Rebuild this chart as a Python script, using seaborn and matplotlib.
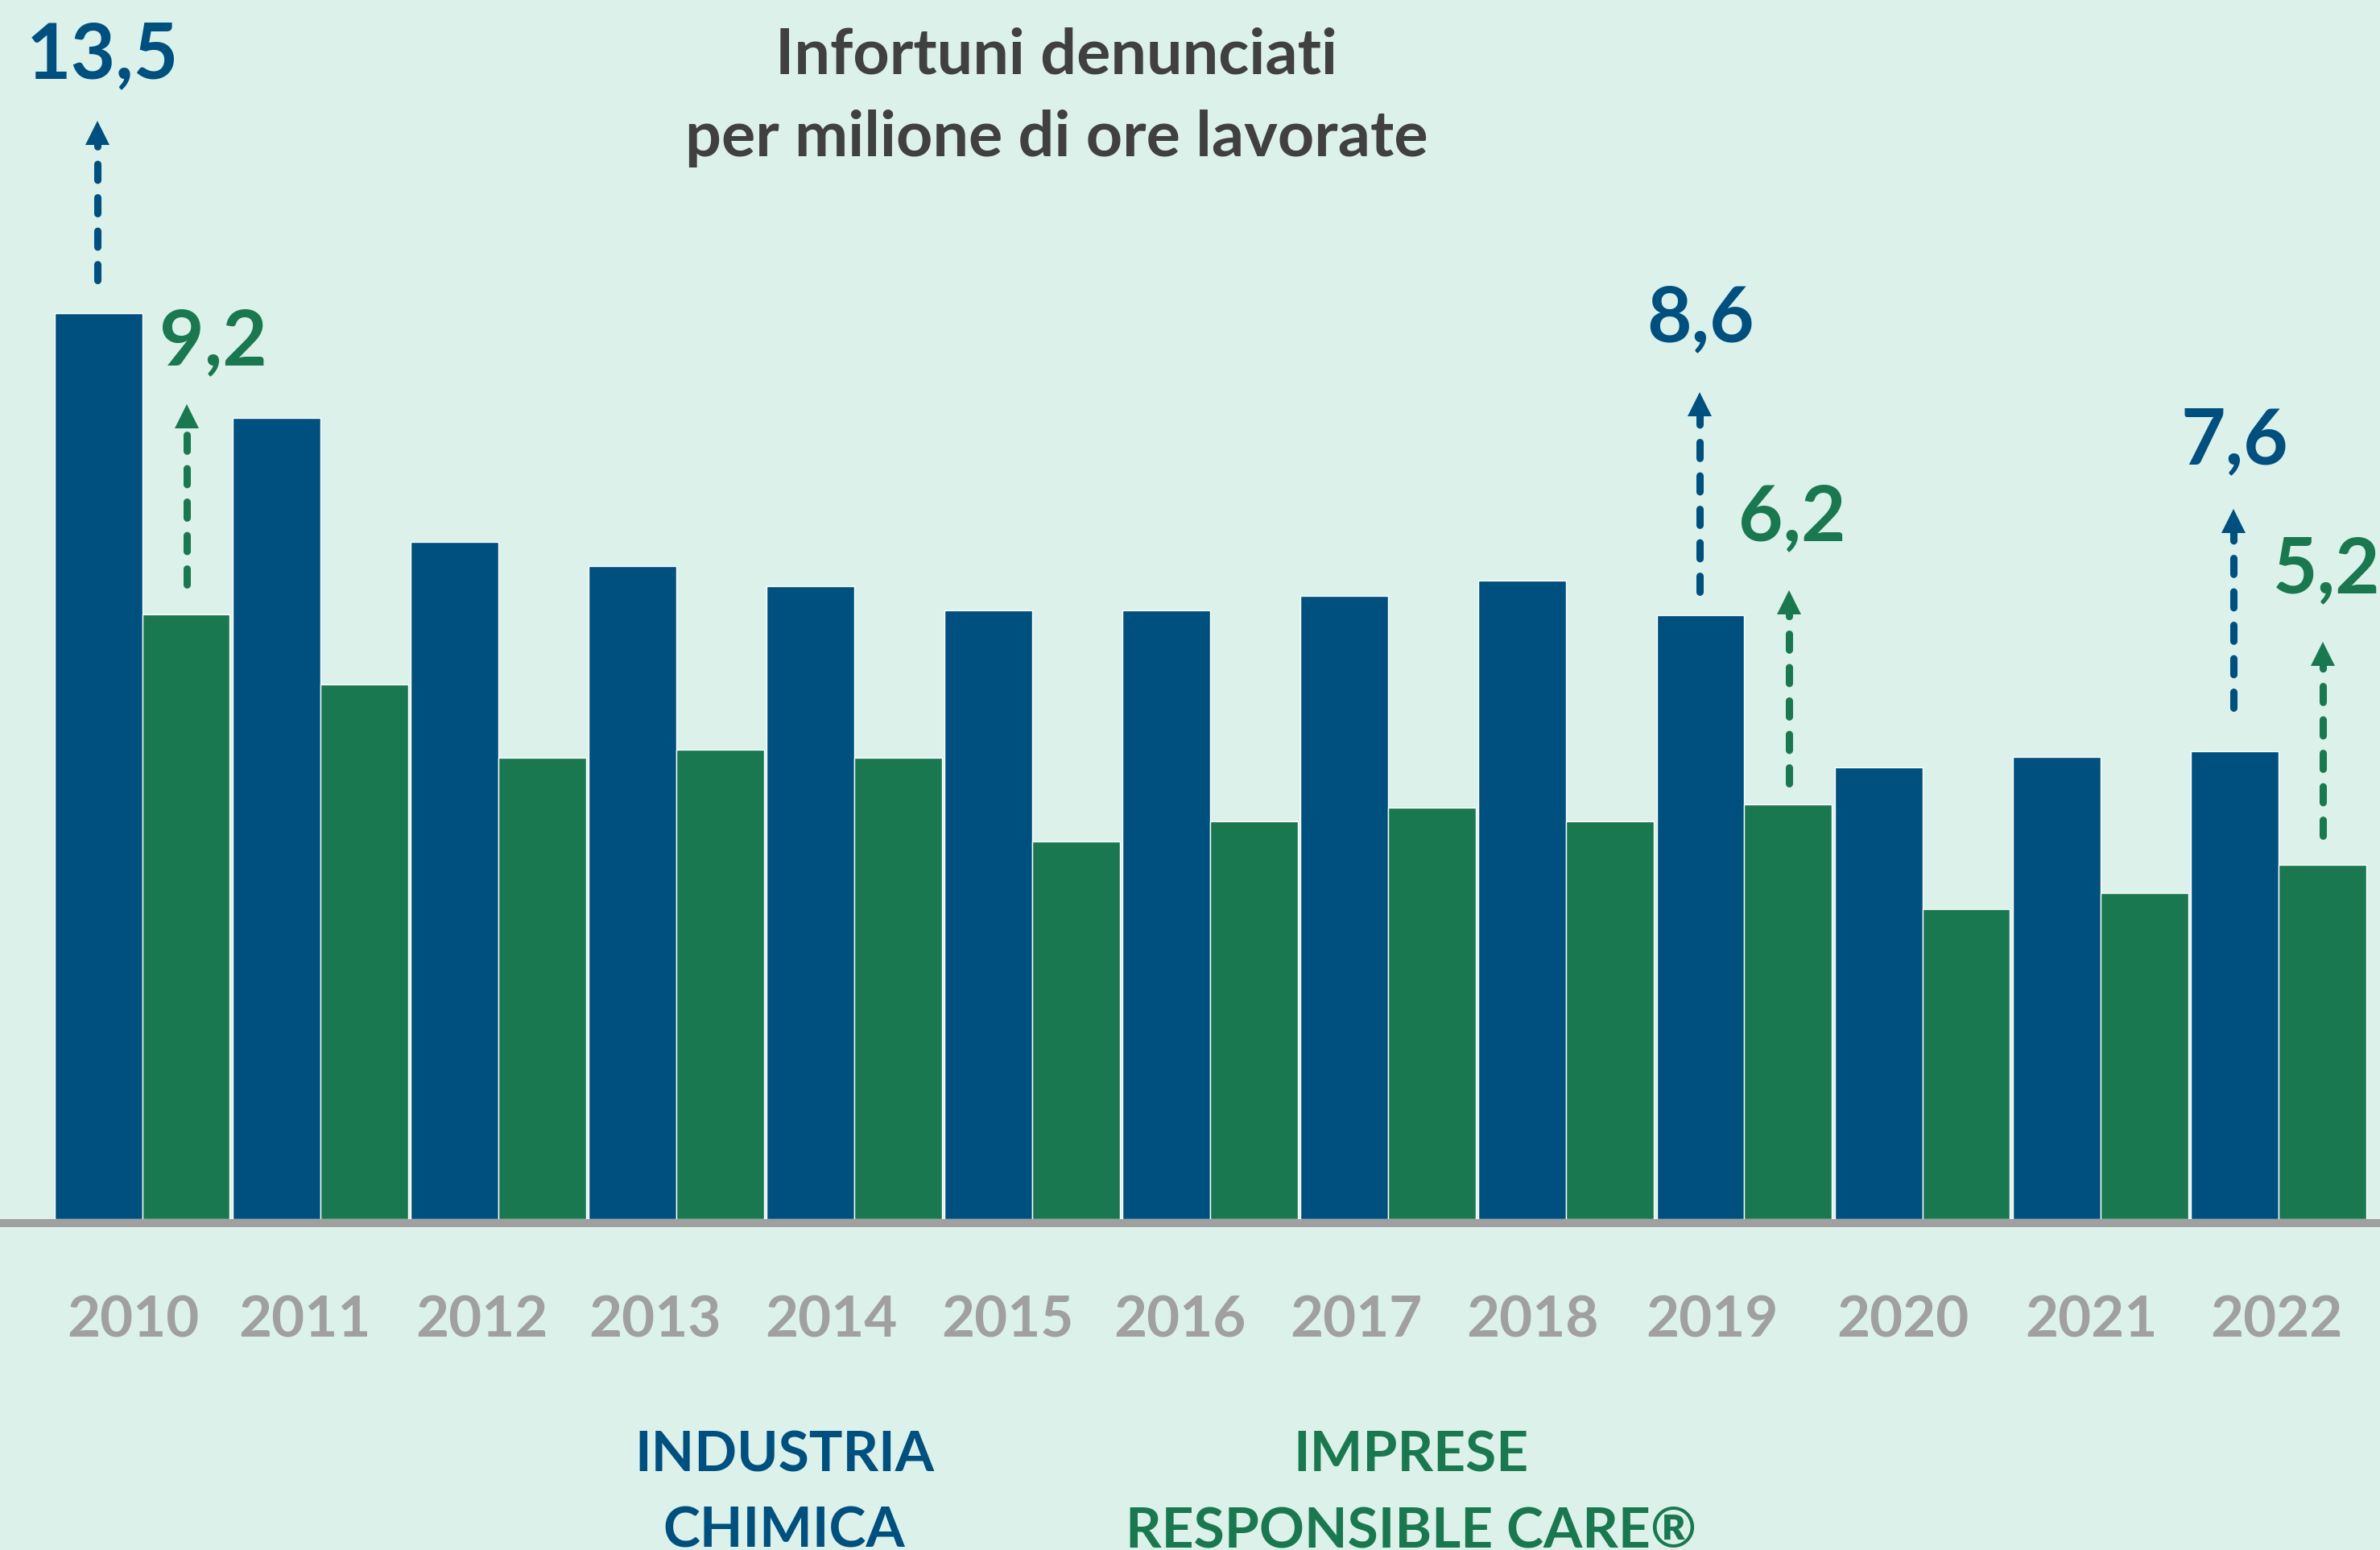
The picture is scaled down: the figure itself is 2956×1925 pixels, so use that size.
import numpy as np
import pandas as pd
import matplotlib
matplotlib.use("Agg")
import matplotlib.pyplot as plt
import seaborn as sns

# ── DATA ──────────────────────────────────────────────────────
anni = ["2010", "2011", "2012", "2013", "2014", "2015", "2016",
        "2017", "2018", "2019", "2020", "2021", "2022"]
industria_chimica = [13.5, 11.94, 10.10, 9.74, 9.43, 9.07, 9.07,
                     9.29, 9.52, 9.00, 6.74, 6.89, 6.97]
imprese_rc = [9.02, 7.97, 6.88, 7.00, 6.88, 5.63, 5.93,
              6.14, 5.93, 6.18, 4.62, 4.86, 5.28]
serie = ["INDUSTRIA\nCHIMICA", "IMPRESE\nRESPONSIBLE CARE®"]

# highlighted values (year, series index, label)
evidenziati = [("2010", 0, "13,5"), ("2010", 1, "9,2"),
               ("2019", 0, "8,6"), ("2019", 1, "6,2"),
               ("2022", 0, "7,6"), ("2022", 1, "5,2")]

titolo = ["Infortuni denunciati", "per milione di ore lavorate"]

# ── LAYOUT (label / arrow placement, data units) ──────────────
# shift of year labels from the group centre
shift_anni = [-0.05, -0.085, -0.094, -0.12, -0.128, -0.137, -0.17,
              -0.18, -0.19, -0.18, -0.11, -0.05, -0.01]
# per highlighted value: gap bar->arrow, arrow length, label x shift, label lift over tip
frecce = [(0.49, 2.37, 0.027, 0.64), (0.44, 2.68, 0.15, 0.59),
          (0.35, 2.97, 0.005, 0.76), (0.31, 2.87, 0.02, 0.76),
          (0.65, 2.96, 0.006, 0.68), (0.44, 2.87, 0.02, 0.75)]

# ── STYLE ─────────────────────────────────────────────────────
BLUE = "#00507f"
GREEN = "#1a7850"
GREY = "#a0a0a0"
TITLE_C = "#404040"
BG = "#dcf1ea"

sns.set_style("white")
plt.rcParams["font.family"] = ["Lato", "DejaVu Sans"]
plt.rcParams["font.weight"] = "bold"

df = pd.DataFrame({
    "anno": anni * 2,
    "serie": [serie[0]] * len(anni) + [serie[1]] * len(anni),
    "valore": industria_chimica + imprese_rc,
})

fig = plt.figure(figsize=(29.56, 19.25), dpi=100, facecolor=BG)
ax = fig.add_axes([0, 0, 1, 1])

sns.barplot(data=df, x="anno", y="valore", hue="serie",
            palette=[BLUE, GREEN], width=0.985, saturation=1,
            legend=False, ax=ax)

ax.set_xlim(-0.7985, 12.571)
ax.set_ylim(-4.93, 18.17)
ax.set_axis_off()

# baseline
ax.axhline(-0.06, color=GREY, lw=7.2, zorder=3)

# year labels
for i, a in enumerate(anni):
    ax.text(i + shift_anni[i], -1.752, a, ha="center", va="baseline",
            fontsize=51, fontweight="bold", color=GREY)

# ── ARROWS + VALUE LABELS ─────────────────────────────────────
px = 1 / 83.33   # one pixel in data units (y)
valori = [industria_chimica, imprese_rc]
colori = [BLUE, GREEN]
for (anno, s, lab), (gap, lung, dx, lift) in zip(evidenziati, frecce):
    i = anni.index(anno)
    x = i - 0.25 + 0.5 * s
    y0 = valori[s][i] + gap
    tip = y0 + lung
    c = colori[s]
    ax.plot([x, x], [y0, tip - 28 * px], color=c, lw=6.5,
            dashes=(2.2, 2.4), dash_capstyle="round", zorder=4)
    ax.plot([x], [tip - 14 * px], marker="^", markersize=22,
            color=c, markeredgewidth=0, zorder=4)
    ax.text(x + dx, tip + lift, lab, ha="center", va="baseline",
            fontsize=69, fontweight="bold", color=c)

# ── TITLE + SERIES NAMES ──────────────────────────────────────
fig.text(0.444, 1 - 92 / 1925, titolo[0], ha="center", va="baseline",
         fontsize=57, fontweight="bold", color=TITLE_C)
fig.text(0.444, 1 - 194 / 1925, titolo[1], ha="center", va="baseline",
         fontsize=57, fontweight="bold", color=TITLE_C)

for nome, xc, c in [(serie[0], 974 / 2956, BLUE), (serie[1], 1753 / 2956, GREEN)]:
    r1, r2 = nome.split("\n")
    fig.text(xc, 1 - 1827 / 1925, r1, ha="center", va="baseline",
             fontsize=50, fontweight="bold", color=c)
    fig.text(xc, 1 - 1921 / 1925, r2, ha="center", va="baseline",
             fontsize=50, fontweight="bold", color=c)

fig.savefig("out.png", dpi=100, facecolor=BG)
